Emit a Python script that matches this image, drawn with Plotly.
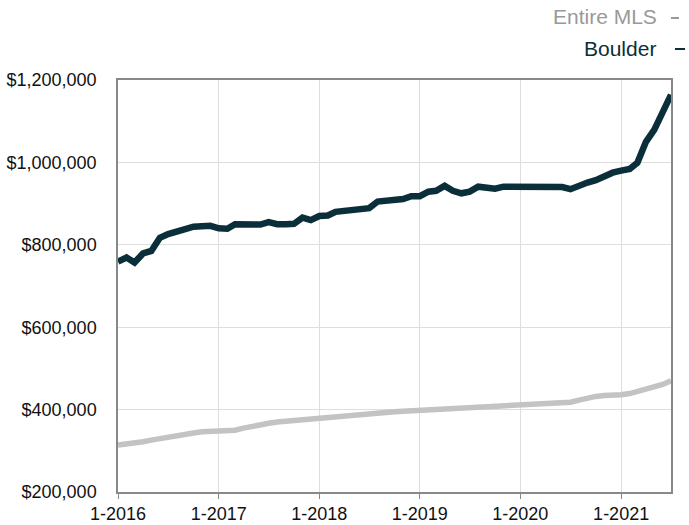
import plotly.graph_objects as go
import pandas as pd

months = pd.date_range("2016-01-01", "2021-07-01", freq="MS")

boulder = [
    759, 769, 757, 779, 785, 817, 826, 834, 838, 844, 846, 846,
    840, 839, 850, 850, 852, 849, 855, 850, 850, 851, 866, 860,
    870, 871, 880, 883, 886, 888, 889, 905, 906, 910, 911, 918,
    918, 929, 931, 943, 931, 925, 929, 941, 939, 936, 941, 941,
    940, 940, 940, 940, 940, 940, 935, 941, 951, 957, 967, 975,
    980, 984, 999, 1050, 1079, 1119, 1164,
]
entire_mls = [
    314, 316, 320, 322, 326, 330, 334, 337, 340, 343, 346, 347,
    347, 349, 350, 355, 360, 364, 367, 370, 372, 374, 376, 378,
    380, 380, 382, 384, 386, 389, 389, 392, 394, 395, 396, 397,
    399, 399, 400, 400, 401, 402, 405, 406, 407, 409, 409, 409,
    409, 411, 414, 414, 414, 414, 418, 423, 428, 432, 434, 434,
    436, 439, 444, 449, 454, 461, 470,
]
boulder = [v * 1000 for v in boulder]
entire_mls = [v * 1000 for v in entire_mls]

x_tick_vals = ["2016-01-01", "2017-01-01", "2018-01-01", "2019-01-01", "2020-01-01", "2021-01-01"]
x_tick_text = ["1-2016", "1-2017", "1-2018", "1-2019", "1-2020", "1-2021"]
y_tick_vals = [200000, 400000, 600000, 800000, 1000000, 1200000]
y_tick_text = ["$200,000", "$400,000", "$600,000", "$800,000", "$1,000,000", "$1,200,000"]

GREY = "#c3c3c3"
TEAL = "#0b2f3a"
FONT = "Liberation Sans"

fig = go.Figure()
fig.add_trace(go.Scatter(x=months, y=entire_mls, mode="lines", name="Entire MLS",
                         line=dict(color=GREY, width=5.5)))
fig.add_trace(go.Scatter(x=months, y=boulder, mode="lines", name="Boulder",
                         line=dict(color=TEAL, width=6.5)))

fig.update_layout(
    width=689, height=525,
    margin=dict(l=118, r=18, t=80, b=33, autoexpand=False),
    paper_bgcolor="white", plot_bgcolor="white",
    showlegend=False,
    font=dict(family=FONT, size=18, color="#111111"),
)
fig.update_xaxes(
    range=["2016-01-01", "2021-07-01"],
    tickvals=x_tick_vals, ticktext=x_tick_text,
    showgrid=True, gridcolor="#dedede", gridwidth=1,
    showline=True, linecolor="#888888", linewidth=1.5, mirror=True,
    ticks="outside", ticklen=5, tickcolor="#888888",
    tickfont=dict(family=FONT, size=18, color="#111111"),
    zeroline=False, automargin=False,
)
fig.update_yaxes(
    range=[200000, 1200000],
    tickvals=y_tick_vals, ticktext=y_tick_text,
    showgrid=True, gridcolor="#dedede", gridwidth=1,
    showline=True, linecolor="#888888", linewidth=1.5, mirror=True,
    ticks="", ticklabelstandoff=16,
    tickfont=dict(family=FONT, size=18, color="#111111"),
    zeroline=False, automargin=False,
)

def px_x(p):
    return (p - 118) / 553.0

def px_y(p):
    return (492 - p) / 412.0

fig.add_annotation(text="Entire MLS", xref="paper", yref="paper",
                   x=px_x(659), y=px_y(17), xanchor="right", yanchor="middle",
                   showarrow=False, font=dict(family=FONT, size=21, color="#999999"))
fig.add_annotation(text="Boulder", xref="paper", yref="paper",
                   x=px_x(658), y=px_y(48), xanchor="right", yanchor="middle",
                   showarrow=False, font=dict(family=FONT, size=21, color=TEAL))
fig.add_shape(type="line", xref="paper", yref="paper",
              x0=px_x(671), x1=px_x(679), y0=px_y(18), y1=px_y(18),
              line=dict(color="#999999", width=2))
fig.add_shape(type="line", xref="paper", yref="paper",
              x0=px_x(675), x1=px_x(685), y0=px_y(49), y1=px_y(49),
              line=dict(color=TEAL, width=2))

fig.write_html(
    "out.html",
    config={"displayModeBar": False},
    post_script="document.body.style.margin='0';document.body.style.padding='0';document.body.style.overflow='hidden';",
)
